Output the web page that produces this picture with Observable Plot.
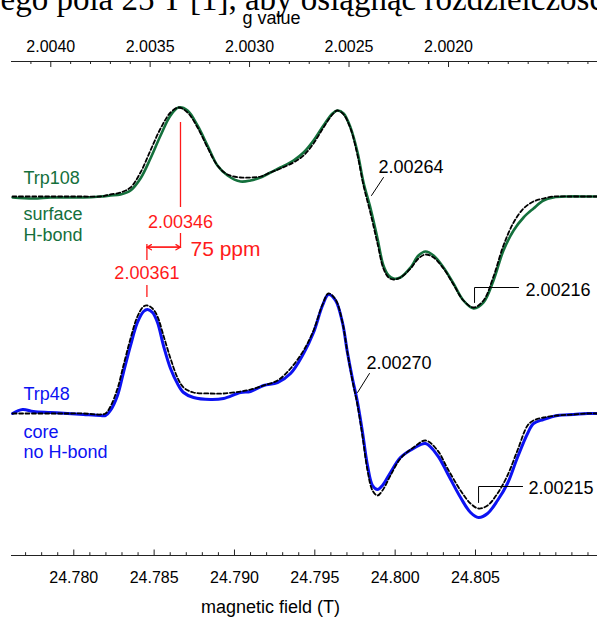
<!DOCTYPE html>
<html><head><meta charset="utf-8">
<script src="https://cdn.jsdelivr.net/npm/d3@7"></script>
<script src="https://cdn.jsdelivr.net/npm/@observablehq/plot@0.6"></script>
<style>html,body{margin:0;padding:0;background:#fff;overflow:hidden}#chart{width:597px;height:617px;overflow:hidden}</style>
</head><body><div id="chart"></div>
<script>
// ---- Data (magnetic field in T, EPR derivative intensity in arbitrary units) ----
const trp108Field = [24.77619,24.77749,24.77855,24.77961,24.78060,24.78166,24.78228,24.78291,24.78353,24.78415,
  24.78477,24.78540,24.78602,24.78652,24.78708,24.78770,24.78832,24.78894,24.78957,24.79038,
  24.79100,24.79162,24.79224,24.79286,24.79367,24.79430,24.79492,24.79554,24.79610,24.79641,
  24.79679,24.79722,24.79766,24.79803,24.79847,24.79890,24.79927,24.79959,24.79990,24.80033,
  24.80096,24.80145,24.80189,24.80239,24.80301,24.80363,24.80425,24.80488,24.80550,24.80612,
  24.80674,24.80737,24.80799,24.80861,24.80923,24.80985,24.81073,24.81197,24.81259];
const trp108Exp = [-0.01,-0.02,-0.01,-0.01,-0.01,0,0.01,0.02,0.06,0.18,
  0.38,0.61,0.81,0.89,0.86,0.71,0.51,0.31,0.21,0.15,
  0.16,0.19,0.24,0.29,0.36,0.44,0.56,0.71,0.83,0.86,
  0.83,0.69,0.44,0.14,-0.12,-0.42,-0.69,-0.79,-0.82,-0.81,
  -0.71,-0.59,-0.55,-0.59,-0.71,-0.87,-1.04,-1.12,-1.06,-0.84,
  -0.54,-0.34,-0.21,-0.12,-0.04,-0.01,0,0,0];
const trp108Sim = [0,0,0,0,0,0,0.02,0.04,0.09,0.24,
  0.46,0.68,0.84,0.89,0.84,0.69,0.49,0.31,0.22,0.19,
  0.19,0.20,0.24,0.28,0.34,0.41,0.53,0.69,0.82,0.86,
  0.82,0.68,0.41,0.11,-0.17,-0.47,-0.72,-0.81,-0.83,-0.81,
  -0.72,-0.62,-0.58,-0.61,-0.72,-0.88,-1.04,-1.11,-1.04,-0.80,
  -0.49,-0.26,-0.12,-0.05,-0.02,0,0,0,0];

const trp48Field = [24.77619,24.77681,24.77749,24.77855,24.77961,24.78060,24.78166,24.78197,24.78228,24.78272,
  24.78309,24.78353,24.78396,24.78434,24.78459,24.78490,24.78521,24.78558,24.78602,24.78645,
  24.78683,24.78745,24.78851,24.78932,24.79038,24.79100,24.79181,24.79268,24.79349,24.79430,
  24.79492,24.79548,24.79585,24.79629,24.79672,24.79703,24.79734,24.79766,24.79797,24.79828,
  24.79859,24.79890,24.79921,24.79971,24.80033,24.80114,24.80189,24.80264,24.80326,24.80407,
  24.80469,24.80519,24.80575,24.80637,24.80699,24.80761,24.80824,24.80861,24.80923,24.81010,
  24.81110,24.81197,24.81259];
const trp48Exp = [0,0.04,0.02,0.01,0,-0.01,-0.02,-0.02,0.03,0.18,
  0.41,0.68,0.91,1.02,1.04,1.01,0.91,0.68,0.45,0.30,
  0.21,0.16,0.14,0.15,0.21,0.22,0.28,0.31,0.40,0.60,
  0.81,1.08,1.19,1.13,0.91,0.61,0.35,0.11,-0.19,-0.52,
  -0.72,-0.76,-0.72,-0.59,-0.44,-0.35,-0.30,-0.42,-0.60,-0.84,
  -0.99,-1.04,-1.00,-0.87,-0.70,-0.44,-0.20,-0.10,-0.06,-0.02,
  -0.01,0,0];
const trp48Sim = [0,0,0,0,0,0,-0.01,0,0.07,0.25,
  0.48,0.75,0.97,1.07,1.08,1.05,0.97,0.78,0.55,0.36,
  0.26,0.21,0.20,0.20,0.22,0.24,0.28,0.33,0.45,0.63,
  0.83,1.09,1.20,1.14,0.91,0.61,0.33,0.08,-0.23,-0.57,
  -0.77,-0.82,-0.77,-0.62,-0.45,-0.34,-0.27,-0.37,-0.55,-0.77,
  -0.90,-0.95,-0.92,-0.80,-0.62,-0.37,-0.12,-0.07,-0.04,-0.02,
  -0.01,0,0];

// Axis ticks
const fieldTicks = [24.780, 24.785, 24.790, 24.795, 24.800, 24.805];
const fieldMinor = [24.777,24.778,24.779,24.781,24.782,24.783,24.784,24.786,24.787,24.788,24.789,
  24.791,24.792,24.793,24.794,24.796,24.797,24.798,24.799,24.801,24.802,24.803,24.804,
  24.806,24.807,24.808,24.809,24.810,24.811,24.812];
const gTicks = [2.0040, 2.0035, 2.0030, 2.0025, 2.0020];
const gMinor = [2.0041,2.0039,2.0038,2.0037,2.0036,2.0034,2.0033,2.0032,2.0031,2.0029,2.0028,2.0027,
  2.0026,2.0024,2.0023,2.0022,2.0021,2.0019,2.0018,2.0017,2.0016,2.0015,2.0014,2.0013];
const hvOverMuB = 49.65625; // B = hv/(g muB), in T

// Annotations (field in T, level in plot units)
const blackLabels = ["2.00264", "2.00216", "2.00270", "2.00215"];
const blackLabelField = [24.79896, 24.80811, 24.79822, 24.80830];
const blackLabelLevel = [2.41, 1.18, 0.45, -0.80];
const blackLeaders = [
  [[24.79927, 2.36], [24.79853, 2.18]],
  [[24.80768, 1.26], [24.80494, 1.26], [24.80494, 1.11]],
  [[24.79840, 0.40], [24.79766, 0.21]],
  [[24.80793, -0.73], [24.80519, -0.73], [24.80519, -0.89]]
];
const redLabels = ["2.00346", "2.00361"];
const redLabelField = [24.78664, 24.78455];
const redLabelLevel = [1.86, 1.35];
const redSegments = [[24.78664, 2.91, 2.06], [24.78664, 1.80, 1.65], [24.78455, 1.69, 1.53], [24.78455, 1.28, 1.16]];
const redArrow = {from: 24.78455, to: 24.78664, level: 1.663};
const ppmLabel = {text: "75 ppm", field: 24.78726, level: 1.58};

const seriesLabels108 = ["Trp108", "surface", "H-bond"];
const seriesLabels48 = ["Trp48", "core", "no H-bond"];
const label108Level = [2.30, 1.94, 1.73];
const label48Level = [0.14, -0.24, -0.44];
const labelField = 24.77687;

const offset108 = 2.17; // vertical stacking offset of the Trp108 spectrum
const yLo = -1.42, yHi = 3.52;

const green = "#14703c", blue = "#0c12f2", red = "#ff1a1a";

const rows108 = trp108Field.map((b, i) => ({b, exp: trp108Exp[i] + offset108, sim: trp108Sim[i] + offset108}));
const rows48 = trp48Field.map((b, i) => ({b, exp: trp48Exp[i], sim: trp48Sim[i]}));
const leaderRows = blackLeaders.flatMap((pts, k) => pts.map(([b, y]) => ({b, y, k})));

const chart = Plot.plot({
  width: 597, height: 617,
  marginTop: 61, marginBottom: 62, marginLeft: 11, marginRight: 0,
  x: {domain: [24.776123, 24.812593], axis: null},
  y: {domain: [yLo, yHi], axis: null},
  style: {fontFamily: "'Liberation Sans', Arial, sans-serif", background: "white", overflow: "hidden"},
  marks: [
    // clipped line of body text from the page above the figure
    Plot.text(["ego pola 25 T [1], aby osiągnąć rozdzielczość"], {frameAnchor: "top-left", textAnchor: "start", lineAnchor: "bottom", dx: -11, dy: -52, fontSize: 33, fontFamily: "'Liberation Serif', 'Times New Roman', serif", fill: "black"}),
    // axes lines and ticks
    Plot.ruleY([yLo, yHi], {stroke: "#222", strokeWidth: 1.2}),
    Plot.ruleX(fieldMinor, {x: d => d, y1: yLo, y2: yLo + 0.028, stroke: "#222", strokeWidth: 1}),
    Plot.ruleX(fieldTicks, {x: d => d, y1: yLo, y2: yLo + 0.055, stroke: "#222", strokeWidth: 1}),
    Plot.ruleX(gMinor, {x: g => hvOverMuB / g, y1: yHi, y2: yHi - 0.03, stroke: "#222", strokeWidth: 1}),
    Plot.ruleX(gTicks, {x: g => hvOverMuB / g, y1: yHi, y2: yHi - 0.06, stroke: "#222", strokeWidth: 1}),
    Plot.text(fieldTicks, {x: d => d, y: yLo, dy: 27, text: d => d.toFixed(3), lineAnchor: "bottom", fontSize: 16, fill: "black"}),
    Plot.text(gTicks, {x: g => hvOverMuB / g, y: yHi, dy: -10, text: g => g.toFixed(4), lineAnchor: "bottom", fontSize: 16, fill: "black"}),
    Plot.text(["g value"], {frameAnchor: "top", dx: -33, dy: -38, lineAnchor: "bottom", fontSize: 18, fill: "black"}),
    Plot.text(["magnetic field (T)"], {frameAnchor: "bottom", dx: -34, dy: 57, lineAnchor: "bottom", fontSize: 18, fill: "black"}),
    // spectra
    Plot.line(rows108, {x: "b", y: "exp", stroke: green, strokeWidth: 2.6, curve: "catmull-rom"}),
    Plot.line(rows48, {x: "b", y: "exp", stroke: blue, strokeWidth: 3, curve: "catmull-rom"}),
    Plot.line(rows108, {x: "b", y: "sim", stroke: "black", strokeWidth: 1.8, strokeDasharray: "4,2.5", curve: "catmull-rom"}),
    Plot.line(rows48, {x: "b", y: "sim", stroke: "black", strokeWidth: 1.8, strokeDasharray: "4,2.5", curve: "catmull-rom"}),
    // series labels
    Plot.text(seriesLabels108, {x: () => labelField, y: (d, i) => label108Level[i], text: d => d, textAnchor: "start", lineAnchor: "bottom", fontSize: 18, fill: green}),
    Plot.text(seriesLabels48, {x: () => labelField, y: (d, i) => label48Level[i], text: d => d, textAnchor: "start", lineAnchor: "bottom", fontSize: 18, fill: blue}),
    // black g-value callouts
    Plot.line(leaderRows, {x: "b", y: "y", z: "k", stroke: "black", strokeWidth: 1}),
    Plot.text(blackLabels, {x: (d, i) => blackLabelField[i], y: (d, i) => blackLabelLevel[i], text: d => d, textAnchor: "start", lineAnchor: "bottom", fontSize: 18, fill: "black"}),
    // red annotation
    Plot.ruleX(redSegments, {x: d => d[0], y1: d => d[1], y2: d => d[2], stroke: red, strokeWidth: 1.3}),
    Plot.arrow([redArrow], {x1: d => d.from, x2: d => d.to, y1: d => d.level, y2: d => d.level, stroke: red, strokeWidth: 1.3, headLength: 6}),
    Plot.arrow([redArrow], {x1: d => d.to, x2: d => d.from, y1: d => d.level, y2: d => d.level, stroke: red, strokeWidth: 1.3, headLength: 6}),
    Plot.text(redLabels, {x: (d, i) => redLabelField[i], y: (d, i) => redLabelLevel[i], text: d => d, textAnchor: "middle", lineAnchor: "bottom", fontSize: 18, fill: red}),
    Plot.text([ppmLabel], {x: "field", y: "level", text: "text", textAnchor: "start", lineAnchor: "bottom", fontSize: 21, fill: red})
  ]
});
document.getElementById("chart").appendChild(chart);
</script>
</body></html>
